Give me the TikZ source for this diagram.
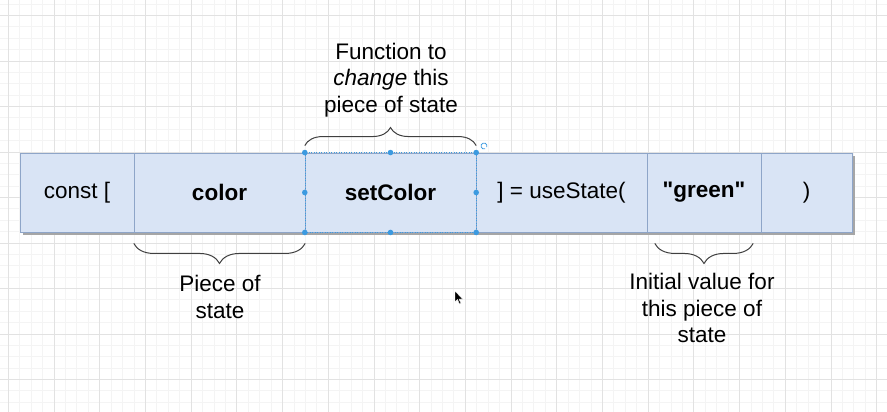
\documentclass[tikz,border=0pt]{standalone}
\usepackage{fontspec}
\setmainfont{Liberation Sans}
\usetikzlibrary{decorations.pathreplacing}

\definecolor{cellfill}{HTML}{D9E4F5}
\definecolor{cellline}{HTML}{8EA5C8}
\definecolor{selblue}{HTML}{3C9AE0}
\definecolor{gridmajor}{HTML}{E2E2E2}
\definecolor{gridminor}{HTML}{F4F4F4}

\begin{document}
\begin{tikzpicture}[x=1pt,y=-1pt,
    cell/.style={draw=cellline, fill=cellfill, minimum height=79.5pt, inner sep=0pt, font=\fontsize{22.5}{27}\selectfont},
    note/.style={align=center, font=\fontsize{22.5}{26.5}\selectfont},
    curly/.style={decorate, decoration={brace, amplitude=#1}, line width=1pt, black!75}]
    \useasboundingbox (0,0) rectangle (887,412);
    \fill[white] (0,0) rectangle (887,412);
    % grid
    \foreach \i in {0,...,76}
      \draw[gridminor, line width=.8pt] ({8.3+11.425*\i},0) -- ++(0,412);
    \foreach \i in {0,...,35}
      \draw[gridminor, line width=.8pt] (0,{4.1+11.375*\i}) -- ++(887,0);
    \foreach \i in {0,...,19}
      \draw[gridmajor, line width=.8pt] ({8.3+45.7*\i},0) -- ++(0,412);
    \foreach \i in {0,...,8}
      \draw[gridmajor, line width=.8pt] (0,{15.5+45.5*\i}) -- ++(887,0);
    % the row
    \fill[black!35] (22.5,155.5) rectangle (854.5,235);
    \node[cell, minimum width=114pt] (cst) at (77,192.5) {const [};
    \node[cell, minimum width=171pt] (clr) at (219.5,192.5) {\textbf{color}};
    \node[cell, minimum width=171pt] (setc) at (390.5,192.5) {\textbf{setColor}};
    \node[cell, minimum width=171pt] (use) at (561.5,192.5) {] = useState(};
    \node[cell, minimum width=114pt] (grn) at (704,192.5) {\textbf{\textquotedbl green\textquotedbl}};
    \node[cell, minimum width=91pt] (cls) at (806.5,192.5) {)};
    % selection
    \draw[selblue, dash pattern=on 1pt off 1.5pt] (setc.north west) rectangle (setc.south east);
    \foreach \p in {north west, north, north east, west, east, south west, south, south east}
      \fill[selblue] (setc.\p) circle (2.8);
    \draw[selblue, line width=.8pt] (484,146) ++(70:3) arc (70:380:3);
    % braces
    \draw[curly=18pt] ([yshift=7pt]setc.north west) -- ([yshift=7pt]setc.north east);
    \draw[curly=20pt] ([yshift=-11pt]clr.south east) -- ([yshift=-11pt]clr.south west);
    \draw[curly=20pt] ([xshift=-8pt,yshift=-11pt]grn.south east) -- ([xshift=8pt,yshift=-11pt]grn.south west);
    \node[note] (fn) at (391,80) {Function to\\\textit{change} this\\piece of state};
    \node[note] (pc) at (220,297) {Piece of\\state};
    \node[note] (iv) at (702,308) {Initial value for\\this piece of\\state};
    % cursor
    \fill[black, draw=white, line width=.4pt] (455,291) -- (455,302) -- (457.5,299.5) -- (459.5,304)
      -- (461,303.3) -- (459,299) -- (462.5,299) -- cycle;
  \end{tikzpicture}
\end{document}
